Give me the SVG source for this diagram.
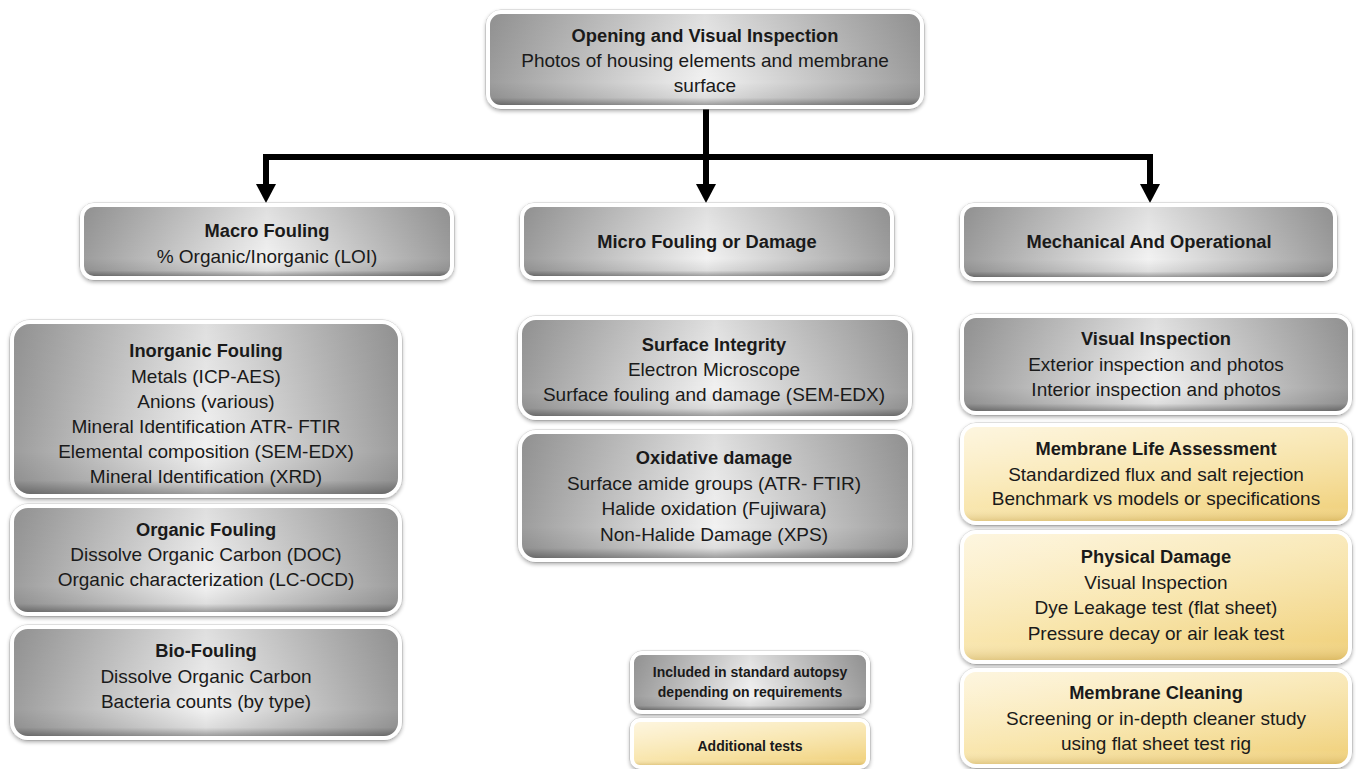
<svg xmlns="http://www.w3.org/2000/svg" width="1356" height="769" viewBox="0 0 1356 769">
<defs>
<linearGradient id="gh" x1="0" y1="0" x2="1" y2="0">
<stop offset="0" stop-color="#9c9c9c"/>
<stop offset="0.5" stop-color="#f2f2f2"/>
<stop offset="1" stop-color="#9c9c9c"/>
</linearGradient>
<linearGradient id="gv" x1="0" y1="0" x2="0" y2="1">
<stop offset="0" stop-color="#000" stop-opacity="0.08"/>
<stop offset="0.75" stop-color="#000" stop-opacity="0"/>
<stop offset="0.92" stop-color="#000" stop-opacity="0.08"/>
<stop offset="1" stop-color="#000" stop-opacity="0.35"/>
</linearGradient>
<linearGradient id="gy" x1="0" y1="0" x2="1" y2="1">
<stop offset="0" stop-color="#fdf3d6"/>
<stop offset="0.5" stop-color="#f8e4a8"/>
<stop offset="1" stop-color="#f0d07a"/>
</linearGradient>
<linearGradient id="gyv" x1="0" y1="0" x2="0" y2="1">
<stop offset="0" stop-color="#fff" stop-opacity="0.25"/>
<stop offset="0.85" stop-color="#fff" stop-opacity="0"/>
<stop offset="1" stop-color="#a07820" stop-opacity="0.25"/>
</linearGradient>
<filter id="sh" x="-5%" y="-10%" width="110%" height="125%">
<feGaussianBlur in="SourceAlpha" stdDeviation="2"/>
<feOffset dx="0" dy="2" result="b"/>
<feComponentTransfer><feFuncA type="linear" slope="0.35"/></feComponentTransfer>
<feMerge><feMergeNode/><feMergeNode in="SourceGraphic"/></feMerge>
</filter>
</defs>
<style>
.bx{stroke:#fff;stroke-width:4}
.g{fill:url(#gh)}
.y{fill:url(#gy)}
.ov{fill:url(#gv);stroke:none}
.oy{fill:url(#gyv);stroke:none}
.out{fill:none;stroke:#d0d0d0;stroke-width:1}
text{font-family:"Liberation Sans",Arial,sans-serif;font-size:19px;fill:#1a1a1a;text-anchor:middle}
.t{font-weight:bold;font-size:18.3px}
.s{font-weight:bold;font-size:14px}
.c{fill:none;stroke:#000;stroke-width:6}
</style>
<rect width="1356" height="769" fill="#fff"/>

<g id="connectors">
<line class="c" x1="706" y1="107" x2="706" y2="157"/>
<polyline class="c" points="266,186 266,157 1150,157 1150,186"/>
<line class="c" x1="706" y1="157" x2="706" y2="186"/>
<path d="M256,184 L276,184 L266,203 Z" fill="#000"/>
<path d="M696,184 L716,184 L706,203 Z" fill="#000"/>
<path d="M1140,184 L1160,184 L1150,203 Z" fill="#000"/>
</g>

<g id="opening">
<rect class="out" x="486" y="10" width="438" height="99" rx="15"/>
<rect class="bx g" x="488" y="12" width="434" height="95" rx="13" filter="url(#sh)"/>
<rect class="ov" x="490" y="14" width="430" height="91" rx="11"/>
<text class="t" x="705" y="42">Opening and Visual Inspection</text>
<text x="705" y="67">Photos of housing elements and membrane</text>
<text x="705" y="92">surface</text>
</g>

<g id="macro">
<rect class="out" x="80" y="203" width="374" height="77" rx="14"/>
<rect class="bx g" x="82" y="205" width="370" height="73" rx="12" filter="url(#sh)"/>
<rect class="ov" x="84" y="207" width="366" height="69" rx="10"/>
<text class="t" x="267" y="237">Macro Fouling</text>
<text x="267" y="263">% Organic/Inorganic (LOI)</text>
</g>

<g id="micro">
<rect class="out" x="520" y="203" width="374" height="77" rx="14"/>
<rect class="bx g" x="522" y="205" width="370" height="73" rx="12" filter="url(#sh)"/>
<rect class="ov" x="524" y="207" width="366" height="69" rx="10"/>
<text class="t" x="707" y="248">Micro Fouling or Damage</text>
</g>

<g id="mech">
<rect class="out" x="960" y="203" width="377" height="78" rx="14"/>
<rect class="bx g" x="962" y="205" width="373" height="74" rx="12" filter="url(#sh)"/>
<rect class="ov" x="964" y="207" width="369" height="70" rx="10"/>
<text class="t" x="1149" y="248">Mechanical And Operational</text>
</g>

<g id="inorganic">
<rect class="out" x="10" y="320" width="392" height="178" rx="20"/>
<rect class="bx g" x="12" y="322" width="388" height="174" rx="18" filter="url(#sh)"/>
<rect class="ov" x="14" y="324" width="384" height="170" rx="16"/>
<text class="t" x="206" y="357">Inorganic Fouling</text>
<text x="206" y="383">Metals (ICP-AES)</text>
<text x="206" y="408">Anions (various)</text>
<text x="206" y="433">Mineral Identification ATR- FTIR</text>
<text x="206" y="458">Elemental composition (SEM-EDX)</text>
<text x="206" y="483">Mineral Identification (XRD)</text>
</g>

<g id="organic">
<rect class="out" x="10" y="504" width="392" height="112" rx="18"/>
<rect class="bx g" x="12" y="506" width="388" height="108" rx="16" filter="url(#sh)"/>
<rect class="ov" x="14" y="508" width="384" height="104" rx="14"/>
<text class="t" x="206" y="536">Organic Fouling</text>
<text x="206" y="561">Dissolve Organic Carbon (DOC)</text>
<text x="206" y="586">Organic characterization (LC-OCD)</text>
</g>

<g id="bio">
<rect class="out" x="10" y="625" width="392" height="115" rx="18"/>
<rect class="bx g" x="12" y="627" width="388" height="111" rx="16" filter="url(#sh)"/>
<rect class="ov" x="14" y="629" width="384" height="107" rx="14"/>
<text class="t" x="206" y="657">Bio-Fouling</text>
<text x="206" y="683">Dissolve Organic Carbon</text>
<text x="206" y="708">Bacteria counts (by type)</text>
</g>

<g id="surface">
<rect class="out" x="518" y="316" width="394" height="104" rx="18"/>
<rect class="bx g" x="520" y="318" width="390" height="100" rx="16" filter="url(#sh)"/>
<rect class="ov" x="522" y="320" width="386" height="96" rx="14"/>
<text class="t" x="714" y="351">Surface Integrity</text>
<text x="714" y="376">Electron Microscope</text>
<text x="714" y="401">Surface fouling and damage (SEM-EDX)</text>
</g>

<g id="oxidative">
<rect class="out" x="518" y="430" width="394" height="132" rx="18"/>
<rect class="bx g" x="520" y="432" width="390" height="128" rx="16" filter="url(#sh)"/>
<rect class="ov" x="522" y="434" width="386" height="124" rx="14"/>
<text class="t" x="714" y="464">Oxidative damage</text>
<text x="714" y="490">Surface amide groups (ATR- FTIR)</text>
<text x="714" y="515">Halide oxidation (Fujiwara)</text>
<text x="714" y="541">Non-Halide Damage (XPS)</text>
</g>

<g id="visual">
<rect class="out" x="960" y="314" width="392" height="101" rx="16"/>
<rect class="bx g" x="962" y="316" width="388" height="97" rx="14" filter="url(#sh)"/>
<rect class="ov" x="964" y="318" width="384" height="93" rx="12"/>
<text class="t" x="1156" y="345">Visual Inspection</text>
<text x="1156" y="371">Exterior inspection and photos</text>
<text x="1156" y="396">Interior inspection and photos</text>
</g>

<g id="life">
<rect class="out" x="960" y="423" width="392" height="102" rx="16"/>
<rect class="bx y" x="962" y="425" width="388" height="98" rx="14" filter="url(#sh)"/>
<rect class="oy" x="964" y="427" width="384" height="94" rx="12"/>
<text class="t" x="1156" y="455">Membrane Life Assessment</text>
<text x="1156" y="481">Standardized flux and salt rejection</text>
<text x="1156" y="505">Benchmark vs models or specifications</text>
</g>

<g id="physical">
<rect class="out" x="960" y="530" width="392" height="134" rx="16"/>
<rect class="bx y" x="962" y="532" width="388" height="130" rx="14" filter="url(#sh)"/>
<rect class="oy" x="964" y="534" width="384" height="126" rx="12"/>
<text class="t" x="1156" y="563">Physical Damage</text>
<text x="1156" y="589">Visual Inspection</text>
<text x="1156" y="614">Dye Leakage test (flat sheet)</text>
<text x="1156" y="640">Pressure decay or air leak test</text>
</g>

<g id="cleaning">
<rect class="out" x="960" y="668" width="392" height="100" rx="16"/>
<rect class="bx y" x="962" y="670" width="388" height="96" rx="14" filter="url(#sh)"/>
<rect class="oy" x="964" y="672" width="384" height="92" rx="12"/>
<text class="t" x="1156" y="699">Membrane Cleaning</text>
<text x="1156" y="725">Screening or in-depth cleaner study</text>
<text x="1156" y="750">using flat sheet test rig</text>
</g>

<g id="legend-standard">
<rect class="out" x="630" y="651" width="240" height="63" rx="12"/>
<rect class="bx g" x="632" y="653" width="236" height="59" rx="10" filter="url(#sh)"/>
<rect class="ov" x="634" y="655" width="232" height="55" rx="8"/>
<text class="s" x="750" y="677">Included in standard autopsy</text>
<text class="s" x="750" y="697">depending on requirements</text>
</g>

<g id="legend-additional">
<rect class="out" x="630" y="718" width="240" height="51" rx="10"/>
<rect class="bx y" x="632" y="720" width="236" height="47" rx="8" filter="url(#sh)"/>
<rect class="oy" x="634" y="722" width="232" height="43" rx="6"/>
<text class="s" x="750" y="751">Additional tests</text>
</g>
</svg>
